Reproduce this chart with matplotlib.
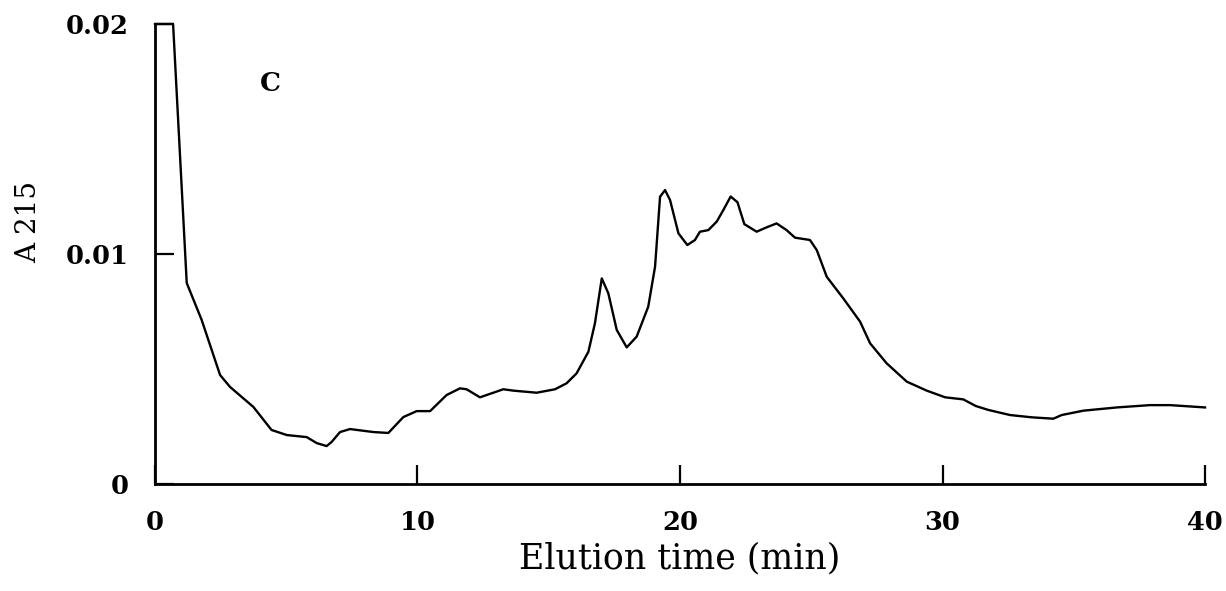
import matplotlib
matplotlib.use('Agg')
import matplotlib.pyplot as plt

# 용출 시간 (min) / 흡광도 A215 - 그림에서 읽은 값
elution_time = [0.0, 0.69, 1.21, 1.78, 2.48, 2.86, 3.75, 4.44, 5.02, 5.78, 6.16,
                6.54, 6.73, 7.05, 7.43, 8.32, 8.89, 9.46, 9.97, 10.48, 11.11,
                11.62, 11.87, 12.38, 13.27, 13.65, 14.54, 15.24, 15.68, 16.06,
                16.51, 16.76, 17.02, 17.27, 17.59, 17.97, 18.35, 18.79, 19.05,
                19.24, 19.43, 19.62, 19.94, 20.28, 20.57, 20.76, 21.08, 21.40,
                21.65, 21.93, 22.19, 22.45, 22.92, 23.30, 23.68, 24.06, 24.38,
                24.95, 25.21, 25.59, 26.22, 26.86, 27.24, 27.87, 28.64, 29.40,
                30.10, 30.79, 31.27, 31.75, 32.57, 33.40, 34.22, 34.54, 35.37,
                36.64, 37.90, 38.67, 40.0]
absorbance = [0.0200, 0.0200, 0.00874, 0.00713, 0.00474, 0.00422, 0.00335,
              0.00235, 0.00213, 0.00204, 0.00178, 0.00165, 0.00183, 0.00226,
              0.00239, 0.00226, 0.00222, 0.00291, 0.00317, 0.00317, 0.00387,
              0.00416, 0.00412, 0.00377, 0.00412, 0.00406, 0.00397, 0.00412,
              0.00438, 0.00481, 0.00575, 0.00699, 0.00894, 0.00829, 0.00670,
              0.00594, 0.00641, 0.00771, 0.00945, 0.01249, 0.01278, 0.01235,
              0.01090, 0.01039, 0.01061, 0.01097, 0.01104, 0.01141, 0.01191,
              0.01250, 0.01225, 0.01130, 0.01097, 0.01116, 0.01133, 0.01104,
              0.01071, 0.01061, 0.01017, 0.00901, 0.00807, 0.00706, 0.00612,
              0.00525, 0.00445, 0.00406, 0.00377, 0.00368, 0.00339, 0.00322,
              0.00300, 0.00290, 0.00284, 0.00300, 0.00319, 0.00333, 0.00343,
              0.00343, 0.00333]

x_ticks = [0, 10, 20, 30, 40]
x_tick_labels = ['0', '10', '20', '30', '40']
y_ticks = [0, 0.01, 0.02]
y_tick_labels = ['0', '0.01', '0.02']

plt.rcParams['font.family'] = ['DejaVu Serif']

fig = plt.figure(figsize=(12.26, 5.91), dpi=100)
ax = fig.add_axes([0.1264, 0.181, 0.8565, 0.7784])

ax.plot(elution_time, absorbance, color='black', linewidth=1.7, clip_on=False)

ax.set_xlim(0, 40)
ax.set_ylim(0, 0.02)

ax.set_xticks(x_ticks)
ax.set_xticklabels(x_tick_labels)
ax.set_yticks(y_ticks)
ax.set_yticklabels(y_tick_labels)

ax.tick_params(axis='both', direction='in', length=14, width=1.6,
               labelsize=18.5, pad=19, colors='black')
for lbl in ax.get_xticklabels() + ax.get_yticklabels():
    lbl.set_fontweight('bold')

ax.spines['top'].set_visible(False)
ax.spines['right'].set_visible(False)
ax.spines['left'].set_linewidth(2)
ax.spines['bottom'].set_linewidth(2)

ax.set_xlabel('Elution time (min)', fontsize=25, labelpad=4)
ax.set_ylabel('A 215', fontsize=20)
ax.yaxis.set_label_coords(-0.107, 0.57)

ax.text(4.4, 0.0174, 'C', fontsize=19, fontweight='bold', ha='center', va='center')

plt.savefig('out.png', dpi=100, facecolor='white')
plt.close()
